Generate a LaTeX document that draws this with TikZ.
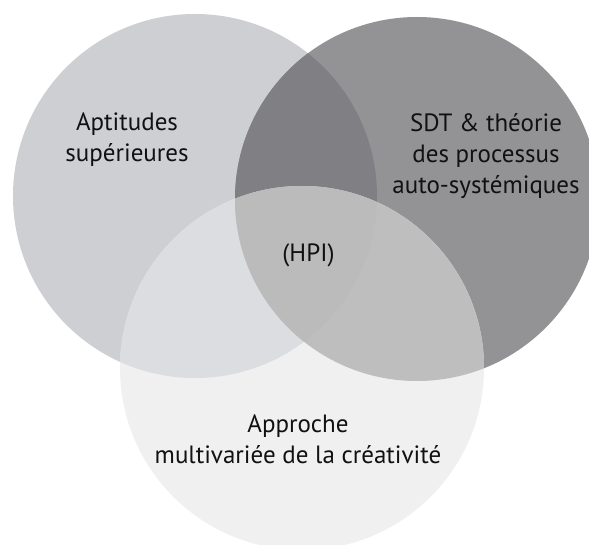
\documentclass[tikz,border=0pt]{standalone}
\usepackage{fontspec}
\setmainfont{PT Sans}
\definecolor{cL}{HTML}{CDCFD3}
\definecolor{cR}{HTML}{939395}
\definecolor{cB}{HTML}{F0F0F0}
\definecolor{cLR}{HTML}{808084}
\definecolor{cLB}{HTML}{DCDDE0}
\definecolor{cRB}{HTML}{BEBEBE}
\definecolor{cLRB}{HTML}{BBBBBC}
\definecolor{txt}{HTML}{111111}
\begin{document}
\begin{tikzpicture}[x=1pt,y=-1pt,
  lbl/.style={align=center,text=txt,inner sep=0pt,font=\fontsize{25}{31}\selectfont}]
\useasboundingbox (0,0) rectangle (589,545);
\clip (0,0) rectangle (589,545);
\fill[white] (0,0) rectangle (589,545);
\def\CL{(195,196) circle[radius=182pt]}
\def\CR{(417,199) circle[radius=182pt]}
\def\CB{(302,368) circle[radius=182pt]}
\fill[cL] \CL;
\fill[cR] \CR;
\fill[cB] \CB;
\begin{scope}\clip \CL; \fill[cLR] \CR; \end{scope}
\begin{scope}\clip \CL; \fill[cLB] \CB; \end{scope}
\begin{scope}\clip \CR; \fill[cRB] \CB; \end{scope}
\begin{scope}\clip \CL; \clip \CR; \fill[cLRB] \CB; \end{scope}
\node[lbl] (apt) at (127,140) {Aptitudes\\supérieures};
\node[lbl] (sdt) at (486,156) {SDT \& théorie\\des processus\\auto-systémiques};
\node[lbl,anchor=base] (hpi) at (308.5,262) {(HPI)};
\node[lbl] (cre) at (298,439) {Approche\\multivariée de la créativité};
\end{tikzpicture}
\end{document}
